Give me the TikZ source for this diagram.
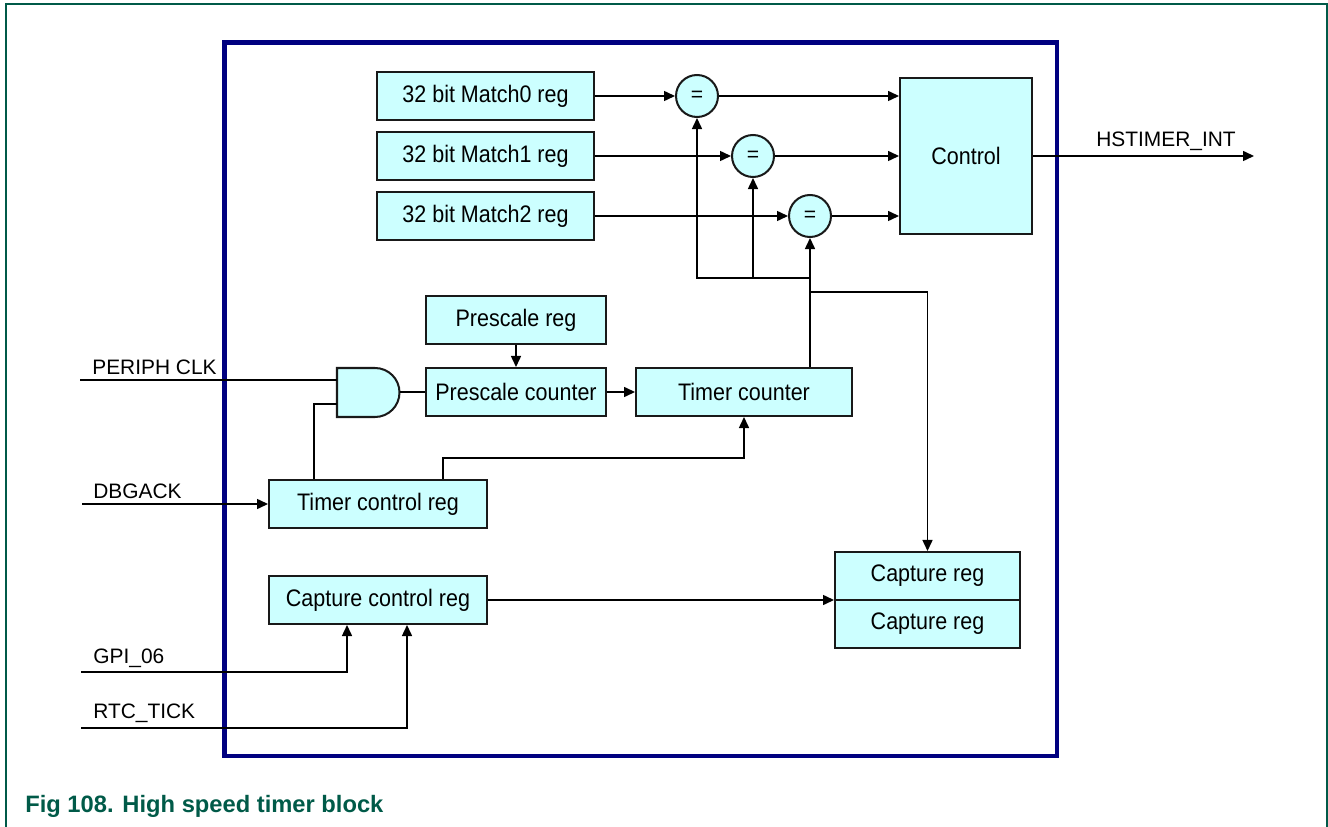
\documentclass[tikz,border=0pt]{standalone}
\usepackage{fontspec}
\setmainfont{Liberation Sans}
\newfontfamily\regfont[FakeStretch=0.9]{Liberation Sans}
\usepackage{tikz}
\usetikzlibrary{arrows.meta,calc,positioning}

\definecolor{regfill}{RGB}{204,255,255}
\definecolor{framenavy}{RGB}{0,0,128}
\definecolor{nxpgreen}{RGB}{0,90,72}

\begin{document}
\begin{tikzpicture}[
      x=0.02cm, y=-0.02cm,
      reg/.style={draw=black!90, line width=1.15pt, fill=regfill, inner sep=0pt,
        minimum height=0.96cm, align=center, font=\fontsize{13.6}{16}\regfont},
      eqnode/.style={circle, draw=black!90, line width=1.15pt, fill=regfill,
        inner sep=0pt, minimum size=0.84cm, font=\fontsize{12}{14}\selectfont},
      sig/.style={anchor=base west, inner sep=0pt, font=\fontsize{11.9}{14}\selectfont},
      wire/.style={line width=0.85pt, draw=black},
      arrow/.style={wire, -{Triangle[length=2.2mm, width=2mm]}}
    ]
    \useasboundingbox (0,0) rectangle (1328,827);

    % outer figure frame and block boundary
    \draw[nxpgreen, line width=1.1pt] (6,827) -- (6,4) -- (1327,4) -- (1327,827);
    \draw[framenavy, line width=2.8pt] (224.5,42.5) rectangle (1057,756);

    % match registers and comparators
    \node[reg, minimum width=4.34cm] (match0) at (485.5,96) {32 bit Match0 reg};
    \node[reg, minimum width=4.34cm] (match1) at (485.5,156) {32 bit Match1 reg};
    \node[reg, minimum width=4.34cm] (match2) at (485.5,216) {32 bit Match2 reg};

    \node[eqnode] (eq0) at (697,96) {=};
    \node[eqnode] (eq1) at (753,156) {=};
    \node[eqnode] (eq2) at (810,216) {=};

    \node[reg, minimum width=2.64cm, minimum height=3.14cm] (control) at (966,156) {Control};

    % prescaler and counter
    \node[reg, minimum width=3.6cm] (prescaleReg) at (516,320) {Prescale reg};
    \node[reg, minimum width=3.6cm] (prescaleCnt) at (516,392) {Prescale counter};
    \node[reg, minimum width=4.32cm] (timerCnt) at (744,392) {Timer counter};
    \node[reg, minimum width=4.36cm] (timerCtrl) at (378,504) {Timer control reg};

    % capture
    \node[reg, minimum width=4.36cm] (captureCtrl) at (378,600) {Capture control reg};
    \node[reg, minimum width=3.7cm] (capture0) at (927.5,576) {Capture reg};
    \node[reg, minimum width=3.7cm] (capture1) at (927.5,624) {Capture reg};

    % clock gate
    \coordinate (andIn1) at (337,380);
    \coordinate (andIn2) at (337,404);
    \coordinate (andOut) at (400,392);
    \draw[draw=black!90, line width=1.15pt, fill=regfill]
      (337,368) -- (375,368) arc[start angle=90, end angle=-90, radius=0.49cm]
      -- (337,417) -- cycle;

    % external signals
    \coordinate (periphClk) at (80,380);
    \coordinate (dbgack) at (82,504);
    \coordinate (gpi) at (81,672);
    \coordinate (rtcTick) at (81,728);
    \coordinate (hsInt) at (1254,156);

    \node[sig] (periphClkLabel) at (92,375) {PERIPH CLK};
    \node[sig] (dbgackLabel) at (93,498) {DBGACK};
    \node[sig] (gpiLabel) at (93,663) {GPI\_06};
    \node[sig] (rtcTickLabel) at (93,718) {RTC\_TICK};
    \node[sig] (hsIntLabel) at (1096,147) {HSTIMER\_INT};

    \draw[wire] (periphClk) -- (andIn1);
    \draw[arrow] (dbgack) -- (timerCtrl.west);
    \draw[arrow] (gpi) -| ($(captureCtrl.south west)+(79,0)$);
    \draw[arrow] (rtcTick) -| ($(captureCtrl.south west)+(139,0)$);
    \draw[arrow] (control.east) -- (hsInt);

    % datapath
    \draw[arrow] (match0) -- (eq0);
    \draw[arrow] (match1) -- (eq1);
    \draw[arrow] (match2) -- (eq2);
    \draw[arrow] (eq0.east) -- (eq0.east -| control.west);
    \draw[arrow] (eq1.east) -- (eq1.east -| control.west);
    \draw[arrow] (eq2.east) -- (eq2.east -| control.west);

    \draw[wire] (andIn2) -| ($(timerCtrl.north west)+(46,0)$);
    \draw[wire] (andOut) -- (prescaleCnt.west);
    \draw[arrow] (prescaleReg) -- (prescaleCnt);
    \draw[arrow] (prescaleCnt) -- (timerCnt);
    \draw[arrow] ($(timerCtrl.north west)+(175,0)$) -- ++(0,-21) -| (timerCnt.south);

    \coordinate (bus) at (810,278);
    \coordinate (capSplit) at (810,292);
    \draw[arrow] (eq2.south |- timerCnt.north) -- (eq2.south);
    \draw[arrow] (bus) -| (eq0.south);
    \draw[arrow] (eq1.south |- bus) -- (eq1.south);
    \draw[arrow] (capSplit) -| (capture0.north);
    \draw[arrow] (captureCtrl) -- (captureCtrl -| capture0.south west);

    \node[anchor=base west, inner sep=0pt, text=nxpgreen,
      font=\fontsize{13.5}{16}\selectfont\bfseries] (caption) at (25,812)
      {Fig 108. High speed timer block};
  \end{tikzpicture}
\end{document}
